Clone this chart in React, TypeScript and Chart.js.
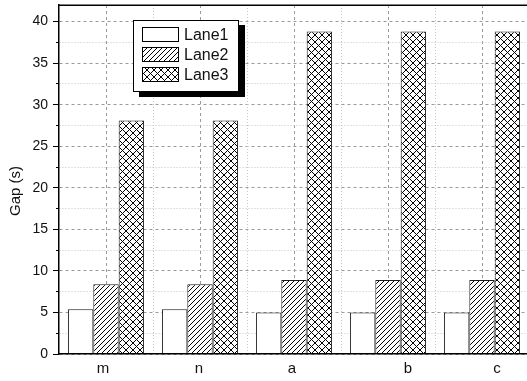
import { useEffect, useRef } from 'react';
import { Chart, registerables } from 'chart.js';

Chart.register(...registerables);

// Gap per lane for each site
const categories = ['m', 'n', 'a', 'b', 'c'];
const lane1 = [5.4, 5.4, 5.0, 5.0, 5.0];
const lane2 = [8.4, 8.4, 8.9, 8.9, 8.9];
const lane3 = [28.1, 28.1, 38.8, 38.8, 38.8];
const seriesNames = ['Lane1', 'Lane2', 'Lane3'];
const yAxisTitle = 'Gap (s)';
const yMin = 0;
const yMax = 42;
const yStep = 2.5;
const yMajorEvery = 5;

// small horizontal nudges for the category captions
const labelNudge = [-3, -1, -2, 20, 15];

const FONT = 'Arial, "Liberation Sans", sans-serif';
const INK = '#111';
const MAJOR_GRID = '#9a9a9a';
const MINOR_GRID = '#c4c4c4';

type Fill = 'plain' | 'diag' | 'cross';

function makeFill(ctx: CanvasRenderingContext2D, kind: Fill): string | CanvasPattern {
  if (kind === 'plain') return '#ffffff';
  const s = kind === 'diag' ? 5 : 7;
  const tile = document.createElement('canvas');
  tile.width = s;
  tile.height = s;
  const g = tile.getContext('2d')!;
  g.fillStyle = '#ffffff';
  g.fillRect(0, 0, s, s);
  g.strokeStyle = '#000000';
  g.lineWidth = 1;
  g.beginPath();
  // rising strokes "/"
  g.moveTo(-1, s + 1);
  g.lineTo(s + 1, -1);
  g.moveTo(-1, 1);
  g.lineTo(1, -1);
  g.moveTo(s - 1, s + 1);
  g.lineTo(s + 1, s - 1);
  if (kind === 'cross') {
    // falling strokes "\"
    g.moveTo(-1, -1);
    g.lineTo(s + 1, s + 1);
    g.moveTo(s - 1, -1);
    g.lineTo(s + 1, 1);
    g.moveTo(-1, s - 1);
    g.lineTo(1, s + 1);
  }
  g.stroke();
  return ctx.createPattern(tile, 'repeat')!;
}

const isMajor = (v: number) => Math.abs(v / yMajorEvery - Math.round(v / yMajorEvery)) < 1e-6;

// dotted separators between category groups, drawn under the bars
const separatorPlugin = {
  id: 'separators',
  beforeDatasetsDraw(chart: any) {
    const { ctx, chartArea } = chart;
    const xs = chart.scales.x;
    const half = (xs.getPixelForValue(1) - xs.getPixelForValue(0)) / 2;
    ctx.save();
    ctx.strokeStyle = MINOR_GRID;
    ctx.lineWidth = 1;
    ctx.setLineDash([1, 2]);
    for (let i = 0; i < categories.length - 1; i++) {
      const x = Math.round(xs.getPixelForValue(i) + half) + 0.5;
      ctx.beginPath();
      ctx.moveTo(x, chartArea.top);
      ctx.lineTo(x, chartArea.bottom);
      ctx.stroke();
    }
    ctx.restore();
  },
};

const overlayPlugin = {
  id: 'overlay',
  afterDraw(chart: any) {
    const { ctx, chartArea } = chart;
    const xs = chart.scales.x;
    ctx.save();

    // top frame line
    ctx.strokeStyle = '#000';
    ctx.lineWidth = 1.5;
    ctx.beginPath();
    ctx.moveTo(chartArea.left - 0.75, chartArea.top + 0.25);
    ctx.lineTo(chartArea.right, chartArea.top + 0.25);
    ctx.stroke();

    // category captions
    ctx.fillStyle = INK;
    ctx.font = `15px ${FONT}`;
    ctx.textAlign = 'center';
    ctx.textBaseline = 'alphabetic';
    categories.forEach((c, i) => {
      ctx.fillText(c, xs.getPixelForValue(i) + labelNudge[i], chartArea.bottom + 19);
    });

    // y-axis title
    ctx.save();
    ctx.translate(chartArea.left - 43, (chartArea.top + chartArea.bottom) / 2 + 11.5);
    ctx.rotate(-Math.PI / 2);
    ctx.textBaseline = 'middle';
    ctx.fillText(yAxisTitle, 0, 0);
    ctx.restore();

    // legend box with drop shadow
    const bx = chartArea.left + 74;
    const by = chartArea.top + 15;
    const bw = 106;
    const bh = 72;
    ctx.fillStyle = '#000';
    ctx.fillRect(bx + 6, by + 5, bw, bh);
    ctx.fillStyle = '#fff';
    ctx.fillRect(bx, by, bw, bh);
    ctx.strokeStyle = '#000';
    ctx.lineWidth = 1;
    ctx.strokeRect(bx + 0.5, by + 0.5, bw - 1, bh - 1);

    chart.data.datasets.forEach((ds: any, i: number) => {
      const cy = by + 14.5 + i * 20;
      const sx = bx + 9;
      const sy = Math.round(cy - 7.5);
      ctx.fillStyle = ds.backgroundColor;
      ctx.fillRect(sx, sy, 37, 15);
      ctx.strokeStyle = '#000';
      ctx.strokeRect(sx + 0.5, sy + 0.5, 36, 14);
      ctx.fillStyle = INK;
      ctx.font = `16px ${FONT}`;
      ctx.textAlign = 'left';
      ctx.textBaseline = 'middle';
      ctx.fillText(ds.label, sx + 42, cy + 1);
    });

    ctx.restore();
  },
};

export default function App() {
  const canvasRef = useRef<HTMLCanvasElement | null>(null);

  useEffect(() => {
    document.documentElement.style.overflow = 'hidden';
    document.body.style.margin = '0';
    document.body.style.overflow = 'hidden';
    const canvas = canvasRef.current!;
    const ctx = canvas.getContext('2d')!;
    const fills: Fill[] = ['plain', 'diag', 'cross'];
    const values = [lane1, lane2, lane3];

    const chart = new Chart(ctx, {
      type: 'bar',
      data: {
        labels: categories,
        datasets: values.map((v, i) => ({
          label: seriesNames[i],
          data: v,
          backgroundColor: makeFill(ctx, fills[i]) as any,
          borderColor: '#1a1a1a',
          borderWidth: 1,
          borderSkipped: 'start' as const,
          categoryPercentage: 0.81,
          barPercentage: 1.0,
        })),
      },
      options: {
        animation: false,
        responsive: false,
        events: [],
        // the plot frame runs just past the visible right edge
        layout: { padding: { left: 0, top: 5, bottom: 0, right: 16 } },
        plugins: {
          legend: { display: false },
          tooltip: { enabled: false },
        },
        scales: {
          x: {
            type: 'category',
            position: 'bottom',
            offset: true,
            ticks: { display: false },
            grid: {
              offset: false,
              drawTicks: false,
              color: MAJOR_GRID,
              lineWidth: 1,
            },
            border: { display: true, color: '#000', width: 1.5, z: 1, dash: [3, 3] },
            afterFit: (s: any) => {
              s.height = 27;
              s.paddingLeft = 0;
              s.paddingRight = 0;
            },
          },
          y: {
            type: 'linear',
            position: 'left',
            min: yMin,
            max: yMax,
            ticks: {
              stepSize: yStep,
              autoSkip: false,
              includeBounds: false,
              padding: 5,
              color: INK,
              font: { family: FONT, size: 14 },
              callback: (v: any) => (isMajor(Number(v)) ? String(v) : ''),
            },
            grid: {
              color: (c: any) => (c.tick && isMajor(c.tick.value) ? MAJOR_GRID : MINOR_GRID),
              lineWidth: 1,
              tickLength: 6,
              tickColor: '#000',
              tickWidth: 1,
              tickBorderDash: (c: any) => (c.tick && !isMajor(c.tick.value) ? [3, 3] : []),
              tickBorderDashOffset: (c: any) => (c.tick && !isMajor(c.tick.value) ? 3 : 0),
            },
            border: {
              display: true,
              color: '#000',
              width: 1.5,
              z: 1,
              dash: (c: any) => (c.tick && isMajor(c.tick.value) ? [3, 3] : [1, 2]),
            },
            afterFit: (s: any) => {
              s.width = 59;
              s.paddingTop = 0;
              s.paddingBottom = 0;
            },
          },
        },
      },
      plugins: [separatorPlugin, overlayPlugin],
    });

    return () => chart.destroy();
  }, []);

  return (
    <div style={{ width: 527, height: 381, overflow: 'hidden' }}>
      <canvas ref={canvasRef} width={545} height={381} style={{ display: 'block' }} />
    </div>
  );
}
